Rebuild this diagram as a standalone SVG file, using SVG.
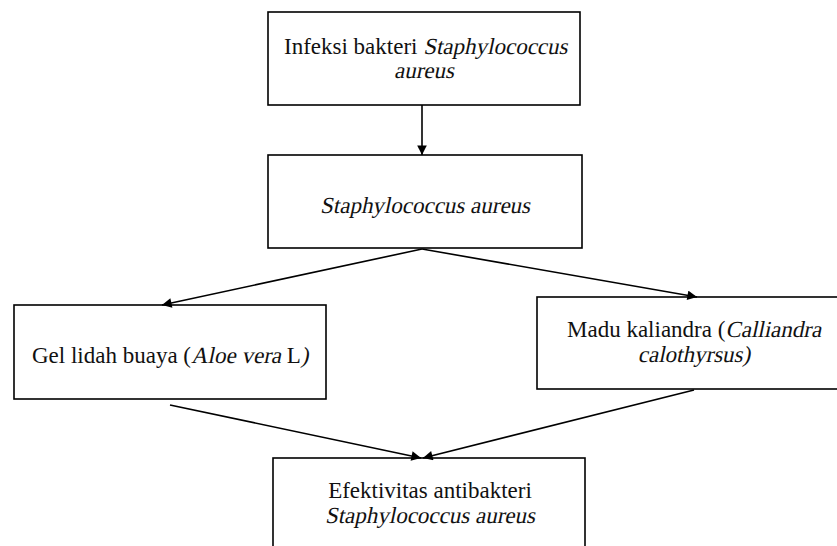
<svg xmlns="http://www.w3.org/2000/svg" width="837" height="546" viewBox="0 0 837 546">
<style>
.box{fill:#fff;stroke:#000;stroke-width:1.6}
.t{font-family:"Liberation Serif","Times New Roman",serif;font-size:23px;fill:#111}
.m{text-anchor:middle}
.c{stroke:#000;stroke-width:1.6;fill:none}
</style>
<defs>
<marker id="ah" viewBox="0 0 10 10" refX="10" refY="5" markerWidth="7" markerHeight="6" markerUnits="strokeWidth" orient="auto">
<path d="M0,0 L10,5 L0,10 z" fill="#000"/>
</marker>
</defs>
<rect width="837" height="546" fill="#fff"/>
<g id="n1">
<rect class="box" x="268" y="12" width="312" height="93"/>
<text class="t" x="284" y="54">Infeksi bakteri</text>
<text class="t" transform="translate(423.2,54) skewX(-12)">Staphylococcus</text>
<text class="t" transform="translate(394,78) skewX(-12)">aureus</text>
</g>
<g id="n2">
<rect class="box" x="268" y="155" width="314" height="93"/>
<text class="t" transform="translate(320,213) skewX(-12)">Staphylococcus aureus</text>
</g>
<g id="n3">
<rect class="box" x="14" y="305" width="312" height="94"/>
<text class="t" x="32" y="363">Gel lidah buaya (</text>
<text class="t" transform="translate(191,363) skewX(-12)">Aloe vera</text>
<text class="t" x="286.8" y="363">L</text>
<text class="t" transform="translate(300.8,363) skewX(-12)">)</text>
</g>
<g id="n4">
<rect class="box" x="537" y="297" width="316" height="92"/>
<text class="t" x="567" y="337">Madu kaliandra (</text>
<text class="t" transform="translate(725.4,337) skewX(-12)">Calliandra</text>
<text class="t" transform="translate(637.8,362) skewX(-12)">calothyrsus)</text>
</g>
<g id="n5">
<rect class="box" x="273" y="458" width="312" height="100"/>
<text class="t m" x="430" y="498">Efektivitas antibakteri</text>
<text class="t" transform="translate(324.9,523) skewX(-12)">Staphylococcus aureus</text>
</g>
<g id="connectors">
<line class="c" x1="422" y1="105" x2="422" y2="155" marker-end="url(#ah)"/>
<line class="c" x1="422" y1="249" x2="162" y2="305" marker-end="url(#ah)"/>
<line class="c" x1="422" y1="249" x2="697" y2="297" marker-end="url(#ah)"/>
<line class="c" x1="170" y1="405" x2="421" y2="458" marker-end="url(#ah)"/>
<line class="c" x1="694" y1="390" x2="423" y2="458" marker-end="url(#ah)"/>
</g>
</svg>
